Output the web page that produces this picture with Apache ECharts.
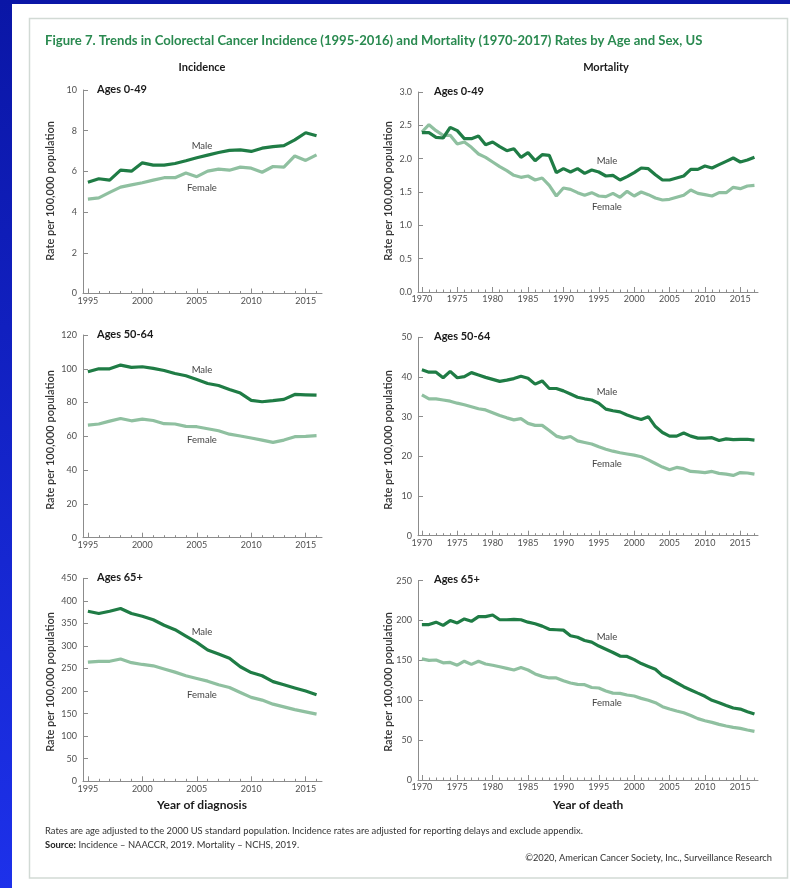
<!DOCTYPE html>
<html><head><meta charset="utf-8">
<script src="https://cdn.jsdelivr.net/npm/echarts@6/dist/echarts.min.js"></script>
<style>html,body{margin:0;padding:0;background:#fff}#c{width:790px;height:888px}</style>
</head><body><div id="c"></div>
<script>
// ---------- data ----------
const incYears = [1995,1996,1997,1998,1999,2000,2001,2002,2003,2004,2005,2006,2007,2008,2009,2010,2011,2012,2013,2014,2015,2016];
const mortYears = [1970,1971,1972,1973,1974,1975,1976,1977,1978,1979,1980,1981,1982,1983,1984,1985,1986,1987,1988,1989,1990,1991,1992,1993,1994,1995,1996,1997,1998,1999,2000,2001,2002,2003,2004,2005,2006,2007,2008,2009,2010,2011,2012,2013,2014,2015,2016,2017];
const incXTickLabels = [1995,2000,2005,2010,2015];
const mortXTickLabels = [1970,1975,1980,1985,1990,1995,2000,2005,2010,2015];

const inc049Male = [5.47,5.64,5.57,6.06,6.01,6.42,6.31,6.31,6.39,6.52,6.67,6.80,6.93,7.03,7.06,6.98,7.14,7.22,7.27,7.55,7.90,7.75];
const inc049Female = [4.64,4.70,4.97,5.23,5.34,5.44,5.57,5.69,5.69,5.92,5.74,6.01,6.11,6.06,6.21,6.16,5.96,6.24,6.21,6.76,6.54,6.81];

const mort049Male = [2.39,2.39,2.32,2.31,2.47,2.42,2.30,2.30,2.34,2.21, 2.25,2.18,2.12,2.15,2.02,2.09,1.97,2.06,2.05,1.79, 1.85,1.80,1.85,1.78,1.83,1.80,1.74,1.75,1.68,1.73, 1.79,1.86,1.85,1.76,1.68,1.68,1.71,1.74,1.84,1.84, 1.89,1.86,1.91,1.96,2.01,1.95,1.98,2.02];
const mort049Female = [2.40,2.51,2.42,2.35,2.35,2.22,2.25,2.17,2.07,2.02, 1.95,1.88,1.82,1.75,1.72,1.74,1.68,1.71,1.60,1.44, 1.56,1.54,1.49,1.45,1.49,1.44,1.43,1.48,1.42,1.51, 1.44,1.50,1.46,1.41,1.38,1.39,1.42,1.45,1.53,1.48, 1.46,1.44,1.49,1.49,1.57,1.55,1.59,1.60];

const inc5064Male = [98.2,100.0,100.0,102.2,100.8,101.2,100.2,99.0,97.2,95.9,93.7,91.3,90.1,87.8,85.6,81.3,80.5,81.1,81.9,84.8,84.6,84.4];
const inc5064Female = [66.7,67.3,69.0,70.6,69.2,70.2,69.4,67.5,67.3,65.9,65.7,64.5,63.3,61.3,60.2,59.0,57.8,56.4,57.8,59.8,60.0,60.4];

const mort5064Male = [41.8,41.2,41.2,39.8,41.4,39.8,40.1,41.1,40.5,39.9, 39.4,38.9,39.2,39.6,40.2,39.7,38.2,39.0,37.1,37.1, 36.5,35.7,34.9,34.5,34.2,33.4,31.9,31.5,31.2,30.4, 29.8,29.3,30.0,27.5,26.0,25.1,25.1,25.9,25.1,24.6, 24.6,24.7,24.0,24.4,24.2,24.3,24.3,24.1];
const mort5064Female = [35.5,34.5,34.5,34.2,33.9,33.4,33.0,32.5,32.0,31.7, 31.0,30.3,29.7,29.2,29.5,28.3,27.8,27.8,26.5,25.1, 24.6,25.0,23.9,23.5,23.1,22.4,21.8,21.3,20.9,20.6, 20.3,19.9,19.1,18.2,17.3,16.6,17.2,16.9,16.2,16.1, 15.9,16.2,15.7,15.5,15.2,15.9,15.8,15.5];

const inc65Male = [377,372,377,383,372,366,358,346,336,322,308,291,282,273,254,241,234,221,214,207,200,192];
const inc65Female = [264,266,266,271,263,259,256,249,242,234,228,222,214,208,197,186,180,171,165,159,154,149];

const mort65Male = [195,195,198,194,200,197,202,199,205,205, 207,201,201,201.5,201,198,196,193,189,188.5, 188,181,179,175,173,168,164,160,155.5,155, 151,146,142.5,139,131,127,122,117,113,109, 105,100,97,93.6,90.3,89,85.7,82.8];
const mort65Female = [152,150,150.5,147,147.5,144,149,145,149,145.5, 144,142,140,138,141,138,133,130,128,128, 124.6,121.7,120,119.6,116,115.4,111.6,109,108.7,106.6, 105.4,102.4,100,97,92,89,86.5,84.4,81,77, 74.4,72.3,69.8,67.7,66,64.8,62.7,61];

const ageGroups = ['Ages 0-49','Ages 50-64','Ages 65+'];
const incYMax = [10,120,450], incYStep = [2,20,50];
const mortYMax = [3,50,250], mortYStep = [0.5,10,50];

// ---------- layout / style ----------
const FONT = 'Lato, "Open Sans", sans-serif';
const C_MALE = '#1f7c45', C_FEMALE = '#8fc0a0', AXIS = '#8c8c8c', TICKTXT = '#505050';
const layout = {
  inc:  {left: 83,  width: 239, xmin: 1994.55, xmax: 2016.5, rows: [[90,293.5],[335,537.7],[578.3,781.3]], ageX: 97,  ytX: 50,  lblX: 202},
  mort: {left: 418, width: 340, xmin: 1969.45, xmax: 2017.5, rows: [[92,292],[337.3,535.7],[580.7,780]],   ageX: 434, ytX: 388, lblX: 607}
};
const panels = [
  {kind:'inc',  row:0, years:incYears,  majors:incXTickLabels,  male:inc049Male,   female:inc049Female,   yMax:incYMax[0],  yStep:incYStep[0],  dec:0, lbl:[146,188]},
  {kind:'mort', row:0, years:mortYears, majors:mortXTickLabels, male:mort049Male,  female:mort049Female,  yMax:mortYMax[0], yStep:mortYStep[0], dec:1, lbl:[161,207]},
  {kind:'inc',  row:1, years:incYears,  majors:incXTickLabels,  male:inc5064Male,  female:inc5064Female,  yMax:incYMax[1],  yStep:incYStep[1],  dec:0, lbl:[370,440]},
  {kind:'mort', row:1, years:mortYears, majors:mortXTickLabels, male:mort5064Male, female:mort5064Female, yMax:mortYMax[1], yStep:mortYStep[1], dec:0, lbl:[392,464]},
  {kind:'inc',  row:2, years:incYears,  majors:incXTickLabels,  male:inc65Male,    female:inc65Female,    yMax:incYMax[2],  yStep:incYStep[2],  dec:0, lbl:[632,695]},
  {kind:'mort', row:2, years:mortYears, majors:mortXTickLabels, male:mort65Male,   female:mort65Female,   yMax:mortYMax[2], yStep:mortYStep[2], dec:0, lbl:[637,703]}
];
const ytCenters = [191, 440, 682];

const grid = [], xAxis = [], yAxis = [], series = [], graphic = [];

graphic.push({type:'rect', z:-20, silent:true, shape:{x:0,y:0,width:790,height:888},
  style:{fill:{type:'linear',x:0,y:0,x2:0,y2:1,colorStops:[{offset:0,color:'#0a16a6'},{offset:1,color:'#1d31ea'}]}}});
graphic.push({type:'rect', z:-19, silent:true, shape:{x:12,y:4,width:778,height:884}, style:{fill:'#ffffff'}});
graphic.push({type:'rect', z:-18, silent:true, shape:{x:29.5,y:18.5,width:758,height:859.5}, style:{fill:'#ffffff', stroke:'#d2dad5', lineWidth:1.5}});

function txt(x, y, text, font, fill, align, extra) {
  graphic.push(Object.assign({type:'text', x:x, y:y, silent:true,
    style:{text:text, font:font, fill:fill, align:align||'center', verticalAlign:'middle'}}, extra||{}));
}

panels.forEach((p, i) => {
  const L = layout[p.kind];
  const [t, b] = L.rows[p.row];
  grid.push({left: L.left, top: t, width: L.width, height: b - t});
  xAxis.push({type:'value', gridIndex:i, min:L.xmin, max:L.xmax, position:'bottom',
    axisLine:{onZero:false, lineStyle:{color:AXIS, width:1}},
    axisTick:{inside:true, length:5, customValues:p.majors, lineStyle:{color:AXIS}},
    axisLabel:{customValues:p.majors, formatter:v => String(v), margin:3, fontSize:9, color:TICKTXT, fontFamily:FONT},
    splitLine:{show:false}});
  xAxis.push({type:'value', gridIndex:i, min:L.xmin, max:L.xmax, position:'bottom',
    axisLine:{show:false, onZero:false},
    axisTick:{inside:true, length:2.5, customValues:p.years, lineStyle:{color:AXIS}},
    axisLabel:{show:false}, splitLine:{show:false}});
  yAxis.push({type:'value', gridIndex:i, min:0, max:p.yMax, interval:p.yStep,
    axisLine:{show:true, lineStyle:{color:AXIS, width:1}},
    axisTick:{show:true, inside:true, length:5, lineStyle:{color:AXIS}},
    axisLabel:{formatter:v => p.dec ? v.toFixed(1) : String(v), margin:6, fontSize:9, color:TICKTXT, fontFamily:FONT},
    splitLine:{show:false}});
  series.push({type:'line', name:'Female', xAxisIndex:2*i, yAxisIndex:i, symbol:'none', z:3,
    lineStyle:{color:C_FEMALE, width:3.2}, data:p.years.map((y,k) => [y, p.female[k]])});
  series.push({type:'line', name:'Male', xAxisIndex:2*i, yAxisIndex:i, symbol:'none', z:4,
    lineStyle:{color:C_MALE, width:3.2}, data:p.years.map((y,k) => [y, p.male[k]])});

  txt(L.ageX, t - 1, ageGroups[p.row], 'bold 11px ' + FONT, '#1a1a1a', 'left');
  txt(L.lblX, p.lbl[0], 'Male', '9.5px ' + FONT, '#444');
  txt(L.lblX, p.lbl[1], 'Female', '9.5px ' + FONT, '#444');
  txt(L.ytX, ytCenters[p.row], 'Rate per 100,000 population', '600 11px ' + FONT, '#333', 'center', {rotation: Math.PI/2});
});

txt(45, 41, 'Figure 7. Trends in Colorectal Cancer Incidence (1995-2016) and Mortality (1970-2017) Rates by Age and Sex, US', 'bold 13.1px ' + FONT, '#2a8a50', 'left');
txt(202, 67, 'Incidence', 'bold 11px ' + FONT, '#1a1a1a');
txt(606, 67, 'Mortality', 'bold 11px ' + FONT, '#1a1a1a');
txt(202, 805, 'Year of diagnosis', 'bold 12px ' + FONT, '#1a1a1a');
txt(588, 805, 'Year of death', 'bold 12px ' + FONT, '#1a1a1a');
txt(45, 831, 'Rates are age adjusted to the 2000 US standard population. Incidence rates are adjusted for reporting delays and exclude appendix.', '9.4px ' + FONT, '#333', 'left');
graphic.push({type:'text', x:45, y:845, silent:true, style:{text:'{b|Source:} Incidence \u2013 NAACCR, 2019. Mortality \u2013 NCHS, 2019.',
  font:'9.4px ' + FONT, fill:'#333', align:'left', verticalAlign:'middle',
  rich:{b:{fontWeight:'bold', fontSize:9.4, fontFamily:FONT, fill:'#222'}}}});
txt(772, 858, '\u00a92020, American Cancer Society, Inc., Surveillance Research', '9.3px ' + FONT, '#333', 'right');

const chart = echarts.init(document.getElementById('c'), null, {renderer:'canvas'});
chart.setOption({animation:false, backgroundColor:'transparent', grid, xAxis, yAxis, series, graphic});
</script></body></html>
